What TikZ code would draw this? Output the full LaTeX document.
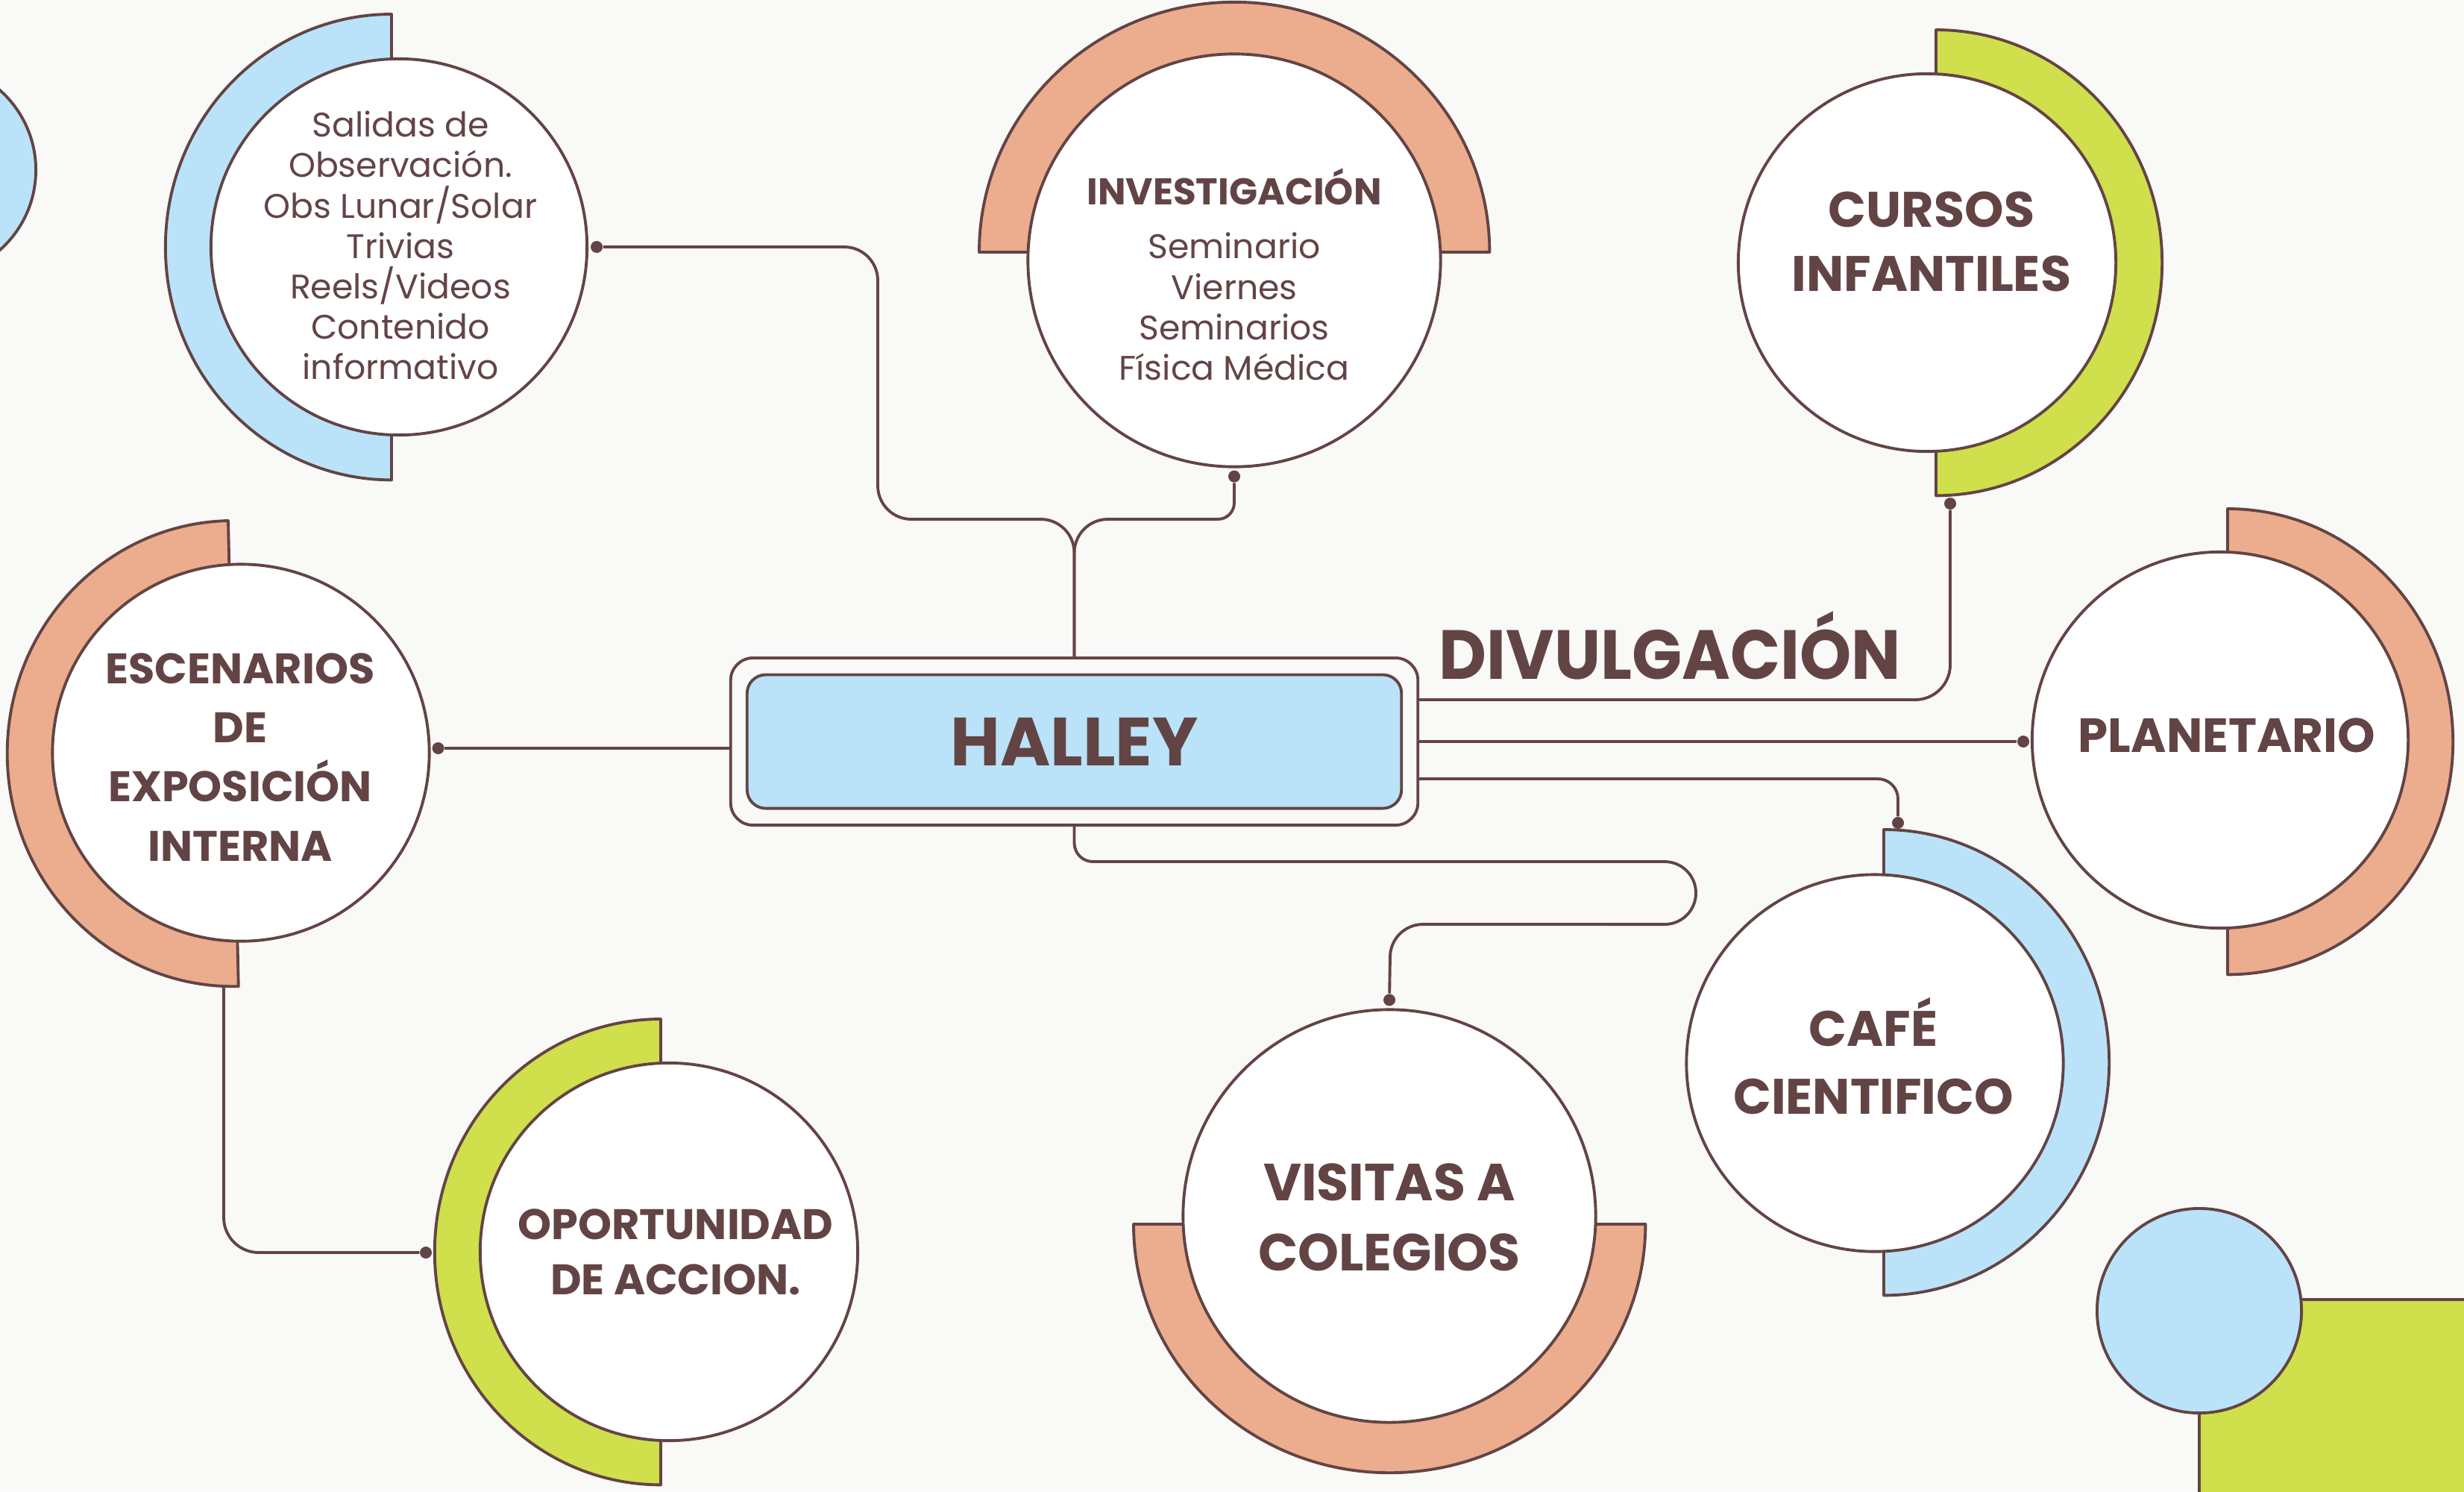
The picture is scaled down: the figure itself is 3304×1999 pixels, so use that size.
\documentclass[tikz,border=0pt]{standalone}
\usepackage{fontspec}
\setmainfont{Poppins}
\usetikzlibrary{calc}
\definecolor{bg}{HTML}{F9F9F7}
\definecolor{brn}{HTML}{634444}
\definecolor{sky}{HTML}{BAE3FA}
\definecolor{salm}{HTML}{ECAC8E}
\definecolor{lime}{HTML}{D0DF4C}
\begin{document}
\begin{tikzpicture}[x=0.01cm,y=-0.01cm, line join=round,
  ln/.style={draw=brn, line width=1.1pt},
  ringst/.style={draw=brn, line width=1.1pt},
  circ/.style={circle, draw=brn, fill=white, line width=1.1pt, inner sep=0pt},
  dotn/.style={circle, fill=brn, inner sep=0pt, minimum size=0.16cm},
  hand/.style={text=brn, align=center, inner sep=0pt, font=\fontsize{13}{15.4}\selectfont},
  capt/.style={text=brn, align=center, inner sep=0pt, font=\bfseries\fontsize{19}{24.5}\selectfont},
]
\fill[bg] (0,0) rectangle (3304,1999);
\useasboundingbox (0,0) rectangle (3304,1999);
\begin{scope}
\clip (0,0) rectangle (3304,1999);
\draw[ln, fill=sky] (-95,228) circle[radius=1.43cm];
\draw[ln, fill=lime] (2949,1742) rectangle (3400,2100);
\draw[ln, fill=sky] (2949,1757) circle[radius=1.37cm];
\end{scope}

% rings
\draw[ringst, fill=sky] (525,19) arc[start angle=90, end angle=270, x radius=3.03cm, y radius=3.12cm] -- cycle;
\draw[ringst, fill=salm] (1313,338) arc[start angle=180, end angle=0, x radius=3.42cm, y radius=3.35cm] -- cycle;
\draw[ringst, fill=lime] (2596,40) arc[start angle=90, end angle=-90, x radius=3.03cm, y radius=3.12cm] -- cycle;
\draw[ringst, fill=salm] (2987,682) arc[start angle=90, end angle=-90, x radius=3.02cm, y radius=3.12cm] -- cycle;
\draw[ringst, fill=sky] (2526,1112) arc[start angle=90, end angle=-90, x radius=3.02cm, y radius=3.12cm] -- cycle;
\draw[ringst, fill=salm] (1520,1641) arc[start angle=180, end angle=360, x radius=3.43cm, y radius=3.33cm] -- cycle;
\draw[ringst, fill=salm] (306,698) arc[start angle=91.3, end angle=271.3, x radius=3.03cm, y radius=3.12cm] -- cycle;
\draw[ringst, fill=lime] (886,1366) arc[start angle=90, end angle=270, x radius=3.03cm, y radius=3.12cm] -- cycle;

% circles
\node[circ, minimum size=5.04cm] (sal) at (535,331) {};
\node[circ, minimum size=5.53cm] (inv) at (1655,349) {};
\node[circ, minimum size=5.06cm] (curs) at (2584,352) {};
\node[circ, minimum size=5.04cm] (plan) at (2977,992) {};
\node[circ, minimum size=5.05cm] (cafe) at (2514,1425) {};
\node[circ, minimum size=5.53cm] (vis) at (1863,1630) {};
\node[circ, minimum size=5.05cm] (esc) at (323,1009) {};
\node[circ, minimum size=5.06cm] (oport) at (897,1678) {};

% central box
\node[draw=brn, line width=1.1pt, fill=bg, rounded corners=0.3cm, minimum width=9.21cm, minimum height=2.24cm] (halley) at (1440.5,994) {};
\node[draw=brn, line width=1.1pt, fill=sky, rounded corners=0.25cm, minimum width=8.77cm, minimum height=1.79cm, text=brn, font=\bfseries\fontsize{26}{30}\selectfont] (halleyin) at (1440.5,994) {HALLEY};

% texts
\node[hand] (salT) at (537,329) {Salidas de\\Observación.\\Obs Lunar/Solar\\Trivias\\Reels/Videos\\Contenido\\informativo};
\node[text=brn, inner sep=0pt, font=\bfseries\fontsize{14.2}{17}\selectfont] (invH) at (1655,250) {INVESTIGACIÓN};
\node[hand] (invT) at (1655,411) {Seminario\\Viernes\\Seminarios\\Física Médica};
\node[capt] (cursT) at (2590,324) {CURSOS\\INFANTILES};
\node[capt, font=\bfseries\fontsize{18.3}{22}\selectfont] (planT) at (2986,986) {PLANETARIO};
\node[capt, font=\bfseries\fontsize{19}{25.9}\selectfont] (cafeT) at (2512,1416) {CAFÉ\\CIENTIFICO};
\node[capt, font=\bfseries\fontsize{19.9}{26.7}\selectfont] (visT) at (1863,1632) {VISITAS A\\COLEGIOS};
\node[capt, font=\bfseries\fontsize{16.3}{22.5}\selectfont] (escT) at (322,1015) {ESCENARIOS\\DE\\EXPOSICIÓN\\INTERNA};
\node[capt, font=\bfseries\fontsize{16.3}{21}\selectfont] (oportT) at (906,1678) {OPORTUNIDAD\\DE ACCION.};
\node[text=brn, inner sep=0pt, anchor=base west, font=\bfseries\fontsize{26.5}{30}\selectfont] (divT) at (1929,910) {\scalebox{0.945}[1]{DIVULGACIÓN}};

% dots
\node[dotn] (saldot) at ($(sal.east)+(11,0)$) {};
\node[dotn] (invdot) at ($(inv.south)+(0,11)$) {};
\node[dotn] (cursdot) at (2615,675) {};
\node[dotn] (plandot) at (2713,994) {};
\node[dotn] (cafedot) at (2545,1103) {};
\node[dotn] (visdot) at ($(vis.north)+(0,-11)$) {};
\node[dotn] (escdot) at ($(esc.east)+(10,-6)$) {};
\node[dotn] (oportdot) at (571,1679) {};

% helper coordinates
\coordinate (jn) at (1440.5,696);
\coordinate (salbend) at (1177,331);
\coordinate (hr1) at ($(halley.east)+(0,-56)$);
\coordinate (hr3) at ($(halley.east)+(0,50)$);
\coordinate (loopa) at (2232,1155);
\coordinate (loopb) at (1908,1239);
\coordinate (escrb) at (300,1323);

% connectors
\draw[ln, rounded corners=0.45cm] (saldot) -- (salbend) -- (salbend |- jn) -- (jn) -- (halley.north);
\draw[ln] (invdot) [rounded corners=0.22cm] -- (invdot |- jn) [rounded corners=0.45cm] -- (jn) -- (halley.north);
\draw[ln, rounded corners=0.47cm] (hr1) -| (cursdot);
\draw[ln] (halley.east) -- (plandot);
\draw[ln, rounded corners=0.27cm] (hr3) -| (cafedot);
\draw[ln] (halley.south) -- ($(halley.south |- loopa)+(0,-25)$)
  arc[start angle=180, end angle=270, radius=0.25cm] -- (loopa)
  arc[start angle=90, end angle=-90, radius=0.42cm] -- (loopb)
  arc[start angle=90, end angle=180, radius=0.44cm] -- (visdot);
\draw[ln] (escdot) -- (escdot -| halley.west);
\draw[ln, rounded corners=0.47cm] (escrb) |- (oportdot);
\end{tikzpicture}
\end{document}
